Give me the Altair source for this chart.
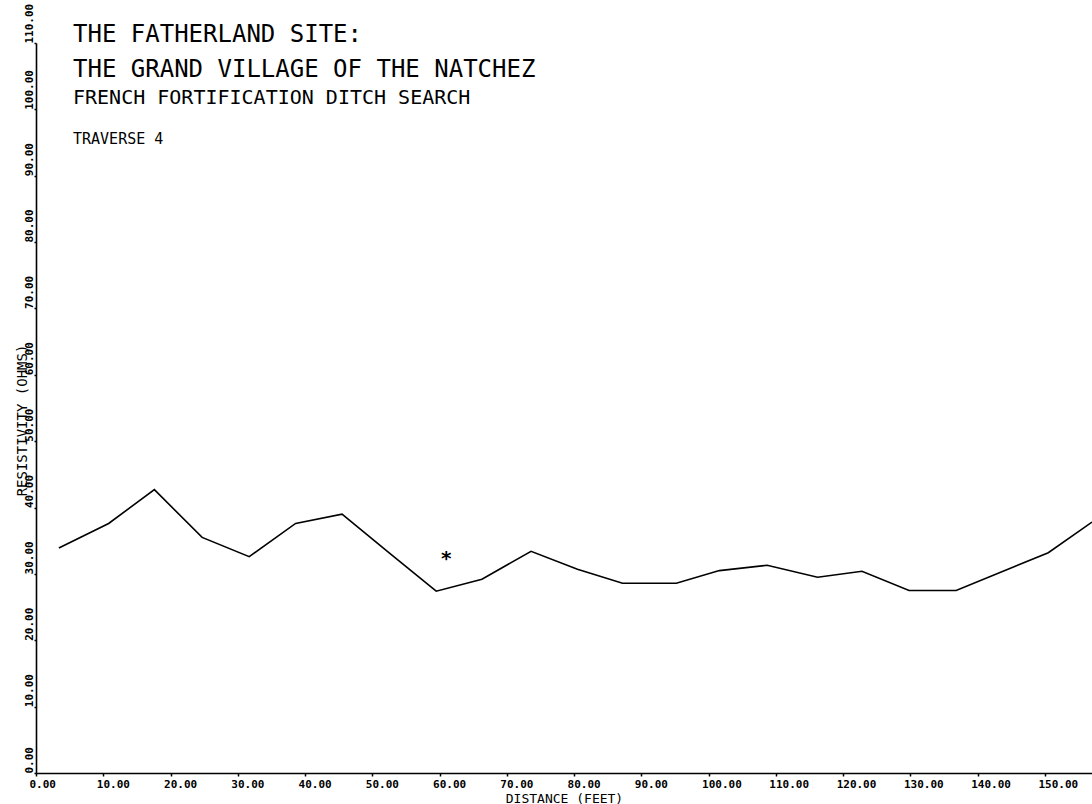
import altair as alt
import pandas as pd

# ---- data ----
distance_ft = [3.4, 10.8, 17.6, 24.7, 31.7, 38.6, 45.5, 52.6, 59.5, 66.3, 73.6,
               80.5, 87.2, 95.2, 101.6, 108.7, 116.2, 122.8, 129.8, 136.8, 150.5, 157.0]
resistivity_ohms = [33.9, 37.6, 42.7, 35.5, 32.6, 37.6, 39.0, 33.1, 27.4, 29.2, 33.4,
                    30.7, 28.6, 28.6, 30.5, 31.3, 29.5, 30.4, 27.5, 27.5, 33.2, 37.8]
marker_x = [61.0]
marker_y = [32.3]
x_ticks = [0, 10, 20, 30, 40, 50, 60, 70, 80, 90, 100, 110, 120, 130, 140, 150]
y_ticks = [0, 10, 20, 30, 40, 50, 60, 70, 80, 90, 100, 110]
title_lines = ["THE FATHERLAND SITE:", "THE GRAND VILLAGE OF THE NATCHEZ"]
subtitle_line = "FRENCH FORTIFICATION DITCH SEARCH"
traverse_line = "TRAVERSE 4"

MONO = "DejaVu Sans Mono"

line_df = pd.DataFrame({"d": distance_ft, "r": resistivity_ohms})
star_df = pd.DataFrame({"d": marker_x, "r": marker_y})

x_scale = alt.Scale(domain=[0, 157], nice=False, zero=False)
y_scale = alt.Scale(domain=[0, 110], nice=False)

x_axis = alt.Axis(
    values=x_ticks, format=".2f", grid=False,
    labelFont=MONO, labelFontWeight="bold", labelFontSize=11, labelColor="black",
    labelAlign="left", labelOffset=-7, labelPadding=2, labelFlush=False,
    tickSize=3, tickColor="black", tickWidth=1.5,
    domainColor="black", domainWidth=1.6,
    title="DISTANCE (FEET)", titleFont=MONO, titleFontSize=13, titleFontWeight="normal",
    titleColor="black", titleY=25, titleBaseline="middle",
)
y_axis = alt.Axis(
    values=y_ticks, format=".2f", grid=False,
    labelFont=MONO, labelFontWeight="bold", labelFontSize=11, labelColor="black",
    labelAngle=270, labelAlign="left", labelBaseline="bottom", labelPadding=0,
    labelFlush=False, labelOverlap=False,
    tickSize=2, tickColor="black", tickWidth=1.5,
    domainColor="black", domainWidth=1.6,
    title="RESISTIVITY (OHMS)", titleFont=MONO, titleFontSize=14, titleFontWeight="normal",
    titleColor="black", titleAngle=270, titleAlign="center", titleBaseline="middle",
    titleX=-14, titleY=377,
)

line = alt.Chart(line_df).mark_line(color="black", strokeWidth=1.6, clip=True).encode(
    x=alt.X("d:Q", scale=x_scale, axis=x_axis),
    y=alt.Y("r:Q", scale=y_scale, axis=y_axis),
)

star = alt.Chart(star_df).mark_text(
    text="*", font=MONO, fontWeight="bold", fontSize=20, color="black",
    align="center", baseline="middle", dy=0,
).encode(x=alt.X("d:Q", scale=x_scale), y=alt.Y("r:Q", scale=y_scale))


def label(txt, x, y, size):
    return alt.Chart(pd.DataFrame({"t": [txt]})).mark_text(
        font=MONO, fontSize=size, color="black", align="left", baseline="alphabetic",
    ).encode(text="t:N", x=alt.value(x), y=alt.value(y))


t1 = label(title_lines[0], 37, -1, 24)
t2 = label(title_lines[1], 37, 34, 24)
t3 = label(subtitle_line, 37, 61, 20)
t4 = label(traverse_line, 37, 101, 15)

chart = alt.layer(line, star, t1, t2, t3, t4).properties(
    width=1056, height=730,
    autosize=alt.AutoSizeParams(type="none"),
    padding={"left": 36, "top": 43, "right": 0, "bottom": 31},
    background="white",
).configure_view(stroke=None)

chart.save("out.html", embed_options={"renderer": "svg", "actions": False})
